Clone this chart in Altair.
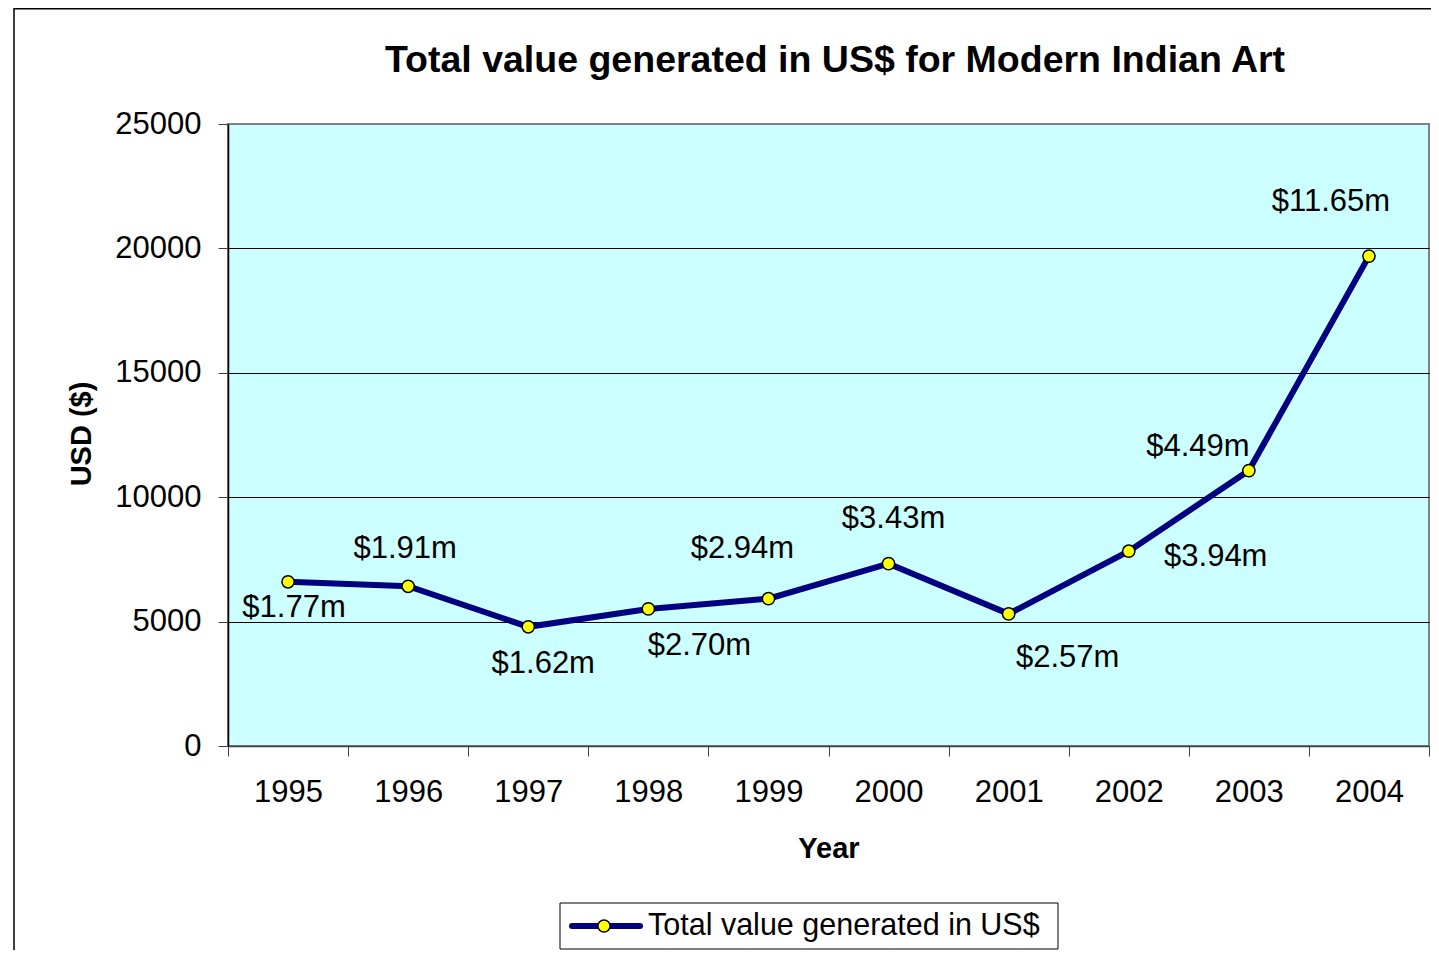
import altair as alt
import pandas as pd

# ---- data ----
years = ["1995", "1996", "1997", "1998", "1999", "2000", "2001", "2002", "2003", "2004"]
values = [6600, 6420, 4790, 5510, 5920, 7330, 5310, 7830, 11070, 19690]
labels = ["$1.77m", "$1.91m", "$1.62m", "$2.70m", "$2.94m", "$3.43m",
          "$2.57m", "$3.94m", "$4.49m", "$11.65m"]
series_name = "Total value generated in US$"
chart_title = "Total value generated in US$ for Modern Indian Art"
y_ticks = [0, 5000, 10000, 15000, 20000, 25000]

# ---- label placement (style, pixels) ----
label_dx = [6, -3, 15, 51, -26, 5, 59, 87, -51, -38]
label_dy = [26, -37, 37, 37, -50, -45, 44, 6, -24, -54]

FONT = "Liberation Sans"
NAVY = "#000080"
YELLOW = "#FFFF00"

df = pd.DataFrame({"year": years, "value": values, "label": labels})
leg = pd.DataFrame({"series": [series_name], "title": [chart_title]})

x_enc = alt.X(
    "year:O",
    scale=alt.Scale(type="band", paddingInner=0, paddingOuter=0),
    bandPosition=0.5,
    axis=alt.Axis(
        title="Year", labelAngle=0, tickBand="extent", tickSize=10,
        labelPadding=21, labelFontSize=31, labelFont=FONT, labelColor="black",
        domainColor="#404040", domainWidth=1.5, tickColor="#404040", tickWidth=1,
        titleFont=FONT, titleFontSize=29, titleFontWeight="bold", titleColor="black",
        titleX=600.5, titleY=102, titleBaseline="middle", titleAlign="center",
        grid=False,
    ),
)
y_enc = alt.Y(
    "value:Q",
    scale=alt.Scale(domain=[0, 25000], nice=False),
    axis=alt.Axis(
        title="USD ($)", values=y_ticks, format="d", tickSize=10, labelPadding=17,
        labelFontSize=31, labelFont=FONT, labelColor="black",
        domainColor="black", domainWidth=1.5, tickColor="#404040", tickWidth=1,
        gridColor=alt.condition("datum.value == 25000", alt.value("#808080"), alt.value("black")),
        gridWidth=1,
        titleFont=FONT, titleFontSize=29, titleFontWeight="bold", titleColor="black",
        titleAngle=270, titleX=-146.5, titleY=309.5, titleBaseline="middle",
        titleAlign="center",
    ),
)

base = alt.Chart(df)

line = base.mark_line(color=NAVY, strokeWidth=6).encode(x=x_enc, y=y_enc)
pts = base.mark_circle(fill=YELLOW, stroke="black", strokeWidth=1.5,
                       size=150, opacity=1).encode(x=x_enc, y=y_enc)

text_layers = []
for yr, dx, dy in zip(years, label_dx, label_dy):
    text_layers.append(
        base.transform_filter(alt.datum.year == yr)
        .mark_text(dx=dx, dy=dy, align="center", baseline="middle",
                   font=FONT, fontSize=31, color="black")
        .encode(x=x_enc, y=y_enc, text="label:N")
    )

# ---- chart frame, title and hand-built legend (decoration) ----
legb = alt.Chart(leg)
frame = legb.mark_rect(fill=None, stroke="black", strokeWidth=1.5).encode(
    x=alt.value(-214), x2=alt.value(1300), y=alt.value(-115.2), y2=alt.value(900))
title_txt = legb.mark_text(align="center", baseline="alphabetic", font=FONT,
                           fontSize=37.5, fontWeight="bold", color="black").encode(
    x=alt.value(607), y=alt.value(-52.3), text="title:N")
leg_box = legb.mark_rect(fill="white", stroke="black", strokeWidth=1).encode(
    x=alt.value(332), x2=alt.value(830), y=alt.value(779), y2=alt.value(825))
leg_line = legb.mark_rule(color=NAVY, strokeWidth=6, strokeCap="round").encode(
    x=alt.value(344), x2=alt.value(412), y=alt.value(802))
leg_pt = legb.mark_circle(fill=YELLOW, stroke="black", strokeWidth=1.5,
                          size=150, opacity=1).encode(
    x=alt.value(376), y=alt.value(802))
leg_txt = legb.mark_text(align="left", baseline="middle", font=FONT,
                         fontSize=30.5, color="black").encode(
    x=alt.value(420), y=alt.value(802), text="series:N")

chart = alt.layer(
    frame, title_txt, line, pts, *text_layers, leg_box, leg_line, leg_pt, leg_txt
).properties(
    width=1201,
    height=622,
    background="white",
    autosize=alt.AutoSizeParams(type="none"),
    padding={"left": 220, "top": 116, "right": 2, "bottom": 204},
).configure_view(
    fill="#CCFFFF", stroke="#808080", strokeWidth=2
)

chart.save("out.html", embed_options={"renderer": "svg", "actions": False})
